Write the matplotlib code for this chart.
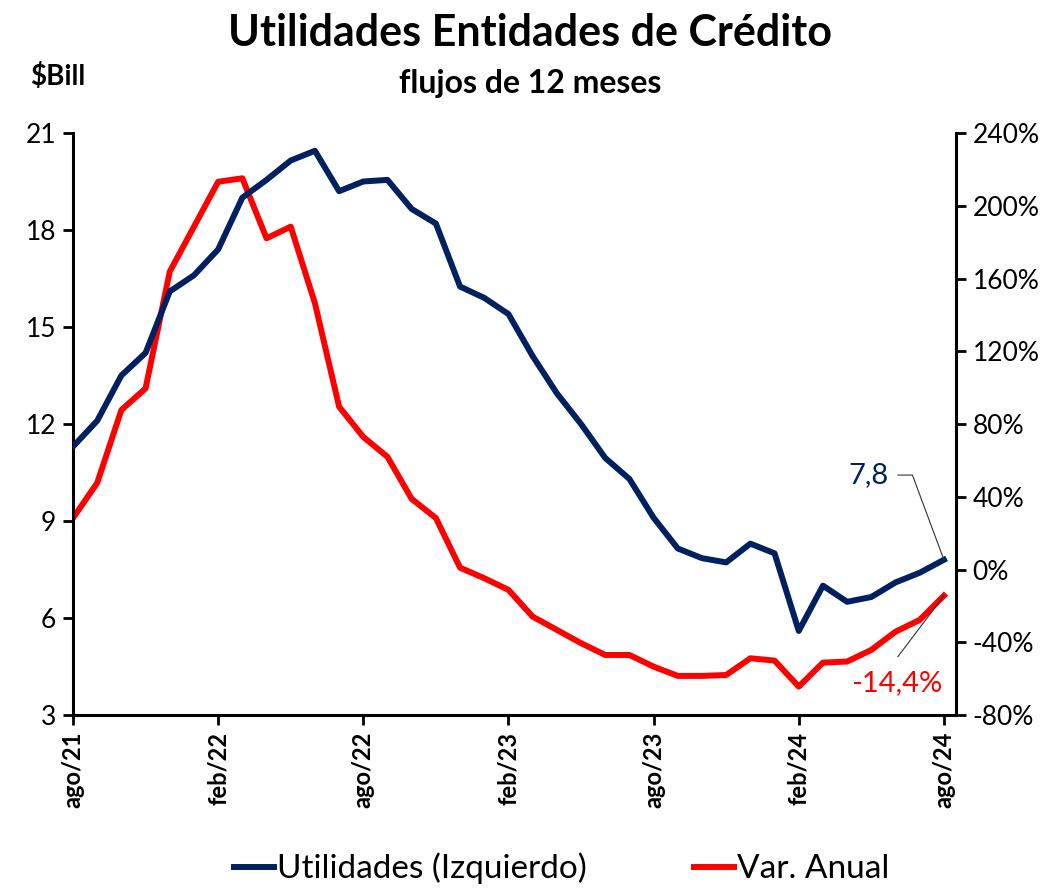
import matplotlib
matplotlib.use("Agg")
import matplotlib.pyplot as plt
from matplotlib.ticker import FuncFormatter

plt.rcParams['font.family'] = ['Lato', 'DejaVu Sans']

# Data (monthly, ago/21 .. ago/24)
months = ['ago/21', 'sep/21', 'oct/21', 'nov/21', 'dic/21', 'ene/22', 'feb/22',
          'mar/22', 'abr/22', 'may/22', 'jun/22', 'jul/22', 'ago/22', 'sep/22',
          'oct/22', 'nov/22', 'dic/22', 'ene/23', 'feb/23', 'mar/23', 'abr/23',
          'may/23', 'jun/23', 'jul/23', 'ago/23', 'sep/23', 'oct/23', 'nov/23',
          'dic/23', 'ene/24', 'feb/24', 'mar/24', 'abr/24', 'may/24', 'jun/24',
          'jul/24', 'ago/24']
utilidades = [11.3, 12.1, 13.5, 14.2, 16.1, 16.6, 17.4, 19.0, 19.55, 20.15, 20.45,
              19.2, 19.5, 19.55, 18.65, 18.2, 16.25, 15.9, 15.4, 14.1, 12.95,
              12.0, 10.95, 10.3, 9.1, 8.15, 7.85, 7.72, 8.3, 8.0, 5.6, 7.0,
              6.5, 6.65, 7.1, 7.4, 7.8]
var_anual = [28.3, 47.6, 87.7, 99.6, 163.8, 188.5, 213.2, 215.1, 182.1, 188.5,
             146.4, 89.5, 72.9, 61.9, 38.8, 28.3, 1.0, -4.8, -11.2, -25.9, -33.2,
             -40.5, -47.0, -47.0, -53.4, -58.5, -58.5, -58.0, -48.8, -50.1,
             -64.4, -51.2, -50.6, -44.2, -34.2, -27.7, -14.4]
tick_idx = [0, 6, 12, 18, 24, 30, 36]

navy = '#002060'
red = '#FF0000'

fig = plt.figure(figsize=(10.6, 8.88), dpi=100)
ax = fig.add_axes([73 / 1060, 1 - 715 / 888, (956 - 73) / 1060, (715 - 133) / 888])
ax2 = ax.twinx()

x = list(range(len(months)))
l1, = ax.plot(x, utilidades, color=navy, lw=4.3, solid_joinstyle='round',
              label='Utilidades (Izquierdo)', zorder=3)
l2, = ax2.plot(x, var_anual, color=red, lw=4.3, solid_joinstyle='round',
               label='Var. Anual', zorder=2)
ax.set_zorder(ax2.get_zorder() + 1)
ax.patch.set_visible(False)

ax.set_xlim(0, 36.5)
ax.set_ylim(3, 21)
ax.set_yticks(range(3, 22, 3))
ax2.set_ylim(-80, 240)
ax2.set_yticks(range(-80, 241, 40))
ax2.yaxis.set_major_formatter(FuncFormatter(lambda v, p: f'{v:.0f}%'))

ax.set_xticks(tick_idx)

for a in (ax, ax2):
    for s in a.spines.values():
        s.set_visible(False)
    a.tick_params(width=2, length=7, labelsize=19, color='black')
ax.spines['left'].set_visible(True)
ax.spines['bottom'].set_visible(True)
ax2.spines['right'].set_visible(True)
for s in (ax.spines['left'], ax.spines['bottom'], ax2.spines['right']):
    s.set_linewidth(2.2)
ax.set_xticklabels([months[i] for i in tick_idx], rotation=90,
                   fontsize=17, fontweight='bold')
ax.tick_params(axis='x', length=7, pad=5)
ax.tick_params(axis='y', pad=5)
ax2.tick_params(axis='y', pad=5)

# end-point labels with leader lines
ax.text(32.9, 10.42, '7,8', color=navy, fontsize=21, ha='center', va='center')
ax.plot([34.1, 34.7, x[-1]], [10.42, 10.42, utilidades[-1]],
        color='#333333', lw=0.8, zorder=4)
ax2.text(34.05, -62.4, '-14,4%', color=red, fontsize=21, ha='center', va='center')
ax2.plot([34.1, x[-1]], [-47.9, var_anual[-1]], color='#333333', lw=0.8, zorder=4)

fig.text(0.5, 0.963, 'Utilidades Entidades de Crédito', ha='center', va='center',
         fontsize=31, fontweight='bold')
fig.text(0.5, 0.906, 'flujos de 12 meses', ha='center', va='center',
         fontsize=23, fontweight='bold')
fig.text(0.054, 0.914, '$Bill', ha='center', va='center', fontsize=20,
         fontweight='bold')

fig.legend(handles=[l1, l2], loc='center', bbox_to_anchor=(0.53, 0.022),
           ncol=2, frameon=False, fontsize=24, handlelength=1.2,
           handletextpad=0.1, columnspacing=3.2)

fig.savefig('out.png', dpi=100)
